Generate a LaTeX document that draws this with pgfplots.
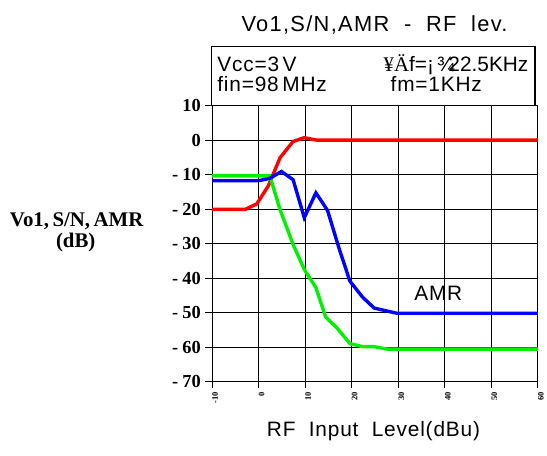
\documentclass[border=0pt]{standalone}
\usepackage{pgfplots}
\pgfplotsset{compat=1.18}
\usepackage{fontspec}
\setmainfont{Liberation Sans}
\newfontfamily\sansw{Liberation Sans}[LetterSpace=4]
\newfontfamily\sanst{Liberation Sans}[LetterSpace=6]
\newfontfamily\serifb{Liberation Serif}[BoldFont={Liberation Serif Bold}]
\definecolor{cred}{RGB}{255,0,0}
\definecolor{cblue}{RGB}{0,0,255}
\definecolor{cgreen}{RGB}{0,240,0}
\begin{document}
\begin{tikzpicture}
\begin{axis}[
  name=ax,
  scale only axis,
  width=327bp, height=277bp,
  xmin=-10, xmax=60, ymin=-70, ymax=10,
  axis x line=bottom, axis y line=left,
  axis line style={-, line width=1.1bp},
  grid=major,
  grid style={black, line width=0.8bp},
  xtick={-10,0,...,60},
  xticklabels={{-10},{0},{10},{20},{30},{40},{50},{60}},
  ytick={-70,-60,...,10},
  yticklabels={{-\kern4pt70},{-\kern4pt60},{-\kern4pt50},{-\kern4pt40},{-\kern4pt30},{-\kern4pt20},{-\kern4pt10},{0},{10}},
  tick align=outside,
  major tick length=7bp,
  tick style={black, line width=0.8bp},
  yticklabel style={font=\serifb\bfseries\fontsize{18.5}{18.5}\selectfont, xshift=-1bp},
  xticklabel style={font=\serifb\bfseries\fontsize{8.5}{8.5}\selectfont, rotate=90, anchor=east, yshift=-3bp},
  clip=false,
]
\addplot[cred, line width=3.4bp] coordinates {
(-10,-20.1) (-2.9,-20.1) (-0.4,-18.5) (2.1,-13.2) (4.6,-5.1) (7.4,-0.4) (9.8,0.7) (12.4,0.0) (60,0.0)
};
\addplot[cgreen, line width=3.4bp] coordinates {
(-10,-10.4) (2.4,-10.4) (4.6,-20.2) (7.4,-30.3) (9.8,-37.5) (12.3,-42.8) (14.4,-51.3) (16.9,-54.6) (19.6,-59.0) (22.3,-59.9) (24.8,-59.9) (27.6,-60.6) (60,-60.6)
};
\addplot[cblue, line width=3.4bp] coordinates {
(-10,-11.8) (-0.1,-11.8) (2.4,-11.1) (4.9,-9.1) (7.4,-11.5) (9.8,-22.5) (12.3,-15.3) (14.8,-20.4) (17.3,-31.5) (19.6,-40.9) (22.3,-45.5) (24.8,-48.7) (29.6,-50.2) (60,-50.2)
};
\node[font=\sansw\fontsize{21}{21}\selectfont] at (axis cs:38.6,-44.5) {AMR};
\end{axis}
\path (ax.south west) ++(-213bp,-74bp) rectangle ++(547bp,457bp);
\node[anchor=base, font=\sanst\fontsize{22}{22}\selectfont, inner sep=0pt] at ([shift={(163bp,351bp)}]ax.south west) {Vo1,S/N,AMR\ \ -\ \ RF\ \ lev.};
\draw[line width=1.3bp] ([shift={(-1bp,277bp)}]ax.south west) rectangle ([shift={(324bp,336bp)}]ax.south west);
\node[anchor=base west, font=\sansw\fontsize{21}{21}\selectfont, inner sep=0pt] at ([shift={(5bp,311bp)}]ax.south west) {Vcc=3\,V};
\node[anchor=base west, font=\sansw\fontsize{21}{21}\selectfont, inner sep=0pt] at ([shift={(5bp,291bp)}]ax.south west) {fin=98\,MHz};
\node[anchor=base west, font=\fontsize{21}{21}\selectfont, inner sep=0pt] at ([shift={(172bp,311bp)}]ax.south west) {{\serifb ¥Ä}f=¡\kern3pt¾\kern-6pt22.5KHz};
\node[anchor=base west, font=\sansw\fontsize{21}{21}\selectfont, inner sep=0pt] at ([shift={(179bp,291bp)}]ax.south west) {fm=1KHz};
\node[anchor=base, font=\sansw\fontsize{21}{21}\selectfont, inner sep=0pt] at ([shift={(162bp,-55bp)}]ax.south west) {RF\ \ Input\ \ Level(dBu)};
\node[anchor=base, font=\serifb\bfseries\fontsize{21}{21}\selectfont, inner sep=0pt] at ([shift={(-136bp,156bp)}]ax.south west) {Vo1,\,S/N,\,AMR};
\node[anchor=base, font=\serifb\bfseries\fontsize{21}{21}\selectfont, inner sep=0pt] at ([shift={(-137bp,135bp)}]ax.south west) {(dB)};
\end{tikzpicture}
\end{document}
